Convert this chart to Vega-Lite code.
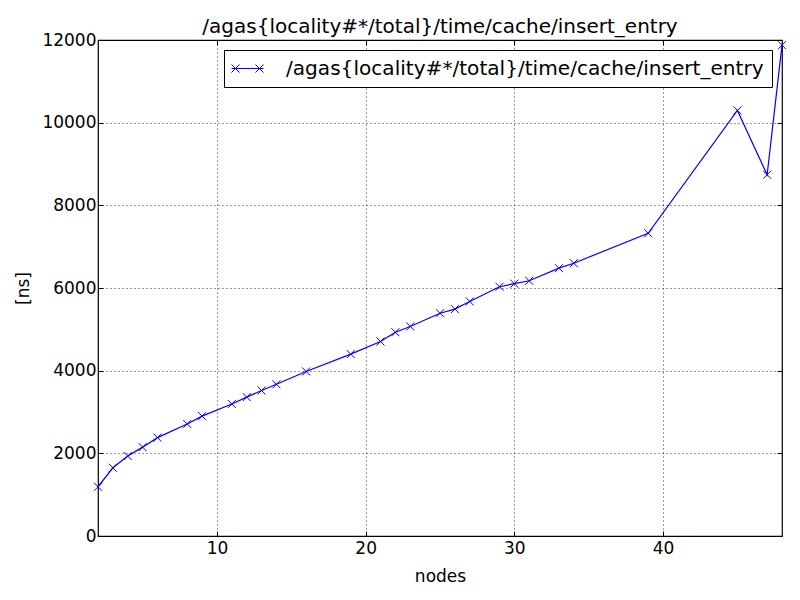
{
  "$schema": "https://vega.github.io/schema/vega-lite/v6.json",
  "width": 684,
  "height": 496,
  "autosize": {"type": "none"},
  "padding": {"left": 98, "top": 40, "right": 18, "bottom": 64},
  "background": "white",
  "config": {
    "font": "DejaVu Sans",
    "view": {"stroke": "black", "strokeWidth": 1.2},
    "axis": {
      "labelFont": "DejaVu Sans",
      "titleFont": "DejaVu Sans",
      "labelFontSize": 17,
      "titleFontSize": 17,
      "titleFontWeight": "normal",
      "labelColor": "black",
      "titleColor": "black",
      "domain": false,
      "tickColor": "black",
      "tickSize": -5,
      "tickWidth": 1,
      "grid": true,
      "gridColor": "black",
      "gridOpacity": 1,
      "gridDash": [1, 3],
      "gridWidth": 0.8
    },
    "legend": {
      "labelFont": "DejaVu Sans",
      "labelFontSize": 20.1,
      "labelColor": "black",
      "labelLimit": 700,
      "strokeColor": "black",
      "fillColor": "white",
      "padding": 8,
      "cornerRadius": 0,
      "offset": 10
    }
  },
  "title": {
    "text": "/agas{locality#*/total}/time/cache/insert_entry",
    "font": "DejaVu Sans",
    "fontSize": 20,
    "fontWeight": "normal",
    "color": "black",
    "anchor": "middle",
    "frame": "group",
    "offset": -6
  },
  "data": {
    "values": [
      {"nodes": 2, "ns": 1190, "series": "/agas{locality#*/total}/time/cache/insert_entry"},
      {"nodes": 3, "ns": 1650, "series": "/agas{locality#*/total}/time/cache/insert_entry"},
      {"nodes": 4, "ns": 1935, "series": "/agas{locality#*/total}/time/cache/insert_entry"},
      {"nodes": 5, "ns": 2150, "series": "/agas{locality#*/total}/time/cache/insert_entry"},
      {"nodes": 6, "ns": 2380, "series": "/agas{locality#*/total}/time/cache/insert_entry"},
      {"nodes": 8, "ns": 2710, "series": "/agas{locality#*/total}/time/cache/insert_entry"},
      {"nodes": 9, "ns": 2900, "series": "/agas{locality#*/total}/time/cache/insert_entry"},
      {"nodes": 11, "ns": 3195, "series": "/agas{locality#*/total}/time/cache/insert_entry"},
      {"nodes": 12, "ns": 3360, "series": "/agas{locality#*/total}/time/cache/insert_entry"},
      {"nodes": 13, "ns": 3520, "series": "/agas{locality#*/total}/time/cache/insert_entry"},
      {"nodes": 14, "ns": 3670, "series": "/agas{locality#*/total}/time/cache/insert_entry"},
      {"nodes": 16, "ns": 3980, "series": "/agas{locality#*/total}/time/cache/insert_entry"},
      {"nodes": 19, "ns": 4400, "series": "/agas{locality#*/total}/time/cache/insert_entry"},
      {"nodes": 21, "ns": 4705, "series": "/agas{locality#*/total}/time/cache/insert_entry"},
      {"nodes": 22, "ns": 4930, "series": "/agas{locality#*/total}/time/cache/insert_entry"},
      {"nodes": 23, "ns": 5070, "series": "/agas{locality#*/total}/time/cache/insert_entry"},
      {"nodes": 25, "ns": 5390, "series": "/agas{locality#*/total}/time/cache/insert_entry"},
      {"nodes": 26, "ns": 5490, "series": "/agas{locality#*/total}/time/cache/insert_entry"},
      {"nodes": 27, "ns": 5675, "series": "/agas{locality#*/total}/time/cache/insert_entry"},
      {"nodes": 29, "ns": 6030, "series": "/agas{locality#*/total}/time/cache/insert_entry"},
      {"nodes": 30, "ns": 6105, "series": "/agas{locality#*/total}/time/cache/insert_entry"},
      {"nodes": 31, "ns": 6175, "series": "/agas{locality#*/total}/time/cache/insert_entry"},
      {"nodes": 33, "ns": 6480, "series": "/agas{locality#*/total}/time/cache/insert_entry"},
      {"nodes": 34, "ns": 6600, "series": "/agas{locality#*/total}/time/cache/insert_entry"},
      {"nodes": 39, "ns": 7325, "series": "/agas{locality#*/total}/time/cache/insert_entry"},
      {"nodes": 45, "ns": 10295, "series": "/agas{locality#*/total}/time/cache/insert_entry"},
      {"nodes": 47, "ns": 8740, "series": "/agas{locality#*/total}/time/cache/insert_entry"},
      {"nodes": 48, "ns": 11875, "series": "/agas{locality#*/total}/time/cache/insert_entry"}
    ]
  },
  "resolve": {"axis": {"x": "independent", "y": "independent"}},
  "layer": [
    {
      "mark": {"type": "line", "strokeWidth": 1.2, "clip": true},
      "encoding": {
        "x": {
          "field": "nodes", "type": "quantitative",
          "scale": {"domain": [2, 48], "nice": false, "zero": false},
          "axis": {"title": "nodes", "values": [10, 20, 30, 40], "format": "d", "labelPadding": 9, "titlePadding": 12}
        },
        "y": {
          "field": "ns", "type": "quantitative",
          "scale": {"domain": [0, 12000], "nice": false},
          "axis": {"title": "[ns]", "values": [0, 2000, 4000, 6000, 8000, 10000, 12000], "format": "d", "labelPadding": 7, "titlePadding": 9}
        },
        "color": {
          "field": "series", "type": "nominal",
          "scale": {"range": ["#0000ff"]},
          "legend": {
            "title": null,
            "orient": "top-right",
            "symbolType": "M-1.1,0H2.1M-1.1,-0.4L-0.3,0.4M-1.1,0.4L-0.3,-0.4M1.3,-0.4L2.1,0.4M1.3,0.4L2.1,-0.4",
            "symbolSize": 400,
            "symbolStrokeWidth": 1,
            "symbolStrokeColor": "#0000ff",
            "symbolFillColor": "transparent",
            "labelOffset": 33
          }
        }
      }
    },
    {
      "mark": {
        "type": "point",
        "shape": "M-1,-1L1,1M-1,1L1,-1",
        "filled": false,
        "size": 64,
        "strokeWidth": 1,
        "opacity": 1,
        "color": "#0000ff",
        "clip": false
      },
      "encoding": {
        "x": {"field": "nodes", "type": "quantitative",
          "axis": {"orient": "top", "labels": false, "title": null, "grid": false, "values": [10, 20, 30, 40]}},
        "y": {"field": "ns", "type": "quantitative",
          "axis": {"orient": "right", "labels": false, "title": null, "grid": false, "values": [0, 2000, 4000, 6000, 8000, 10000, 12000]}}
      }
    }
  ]
}
